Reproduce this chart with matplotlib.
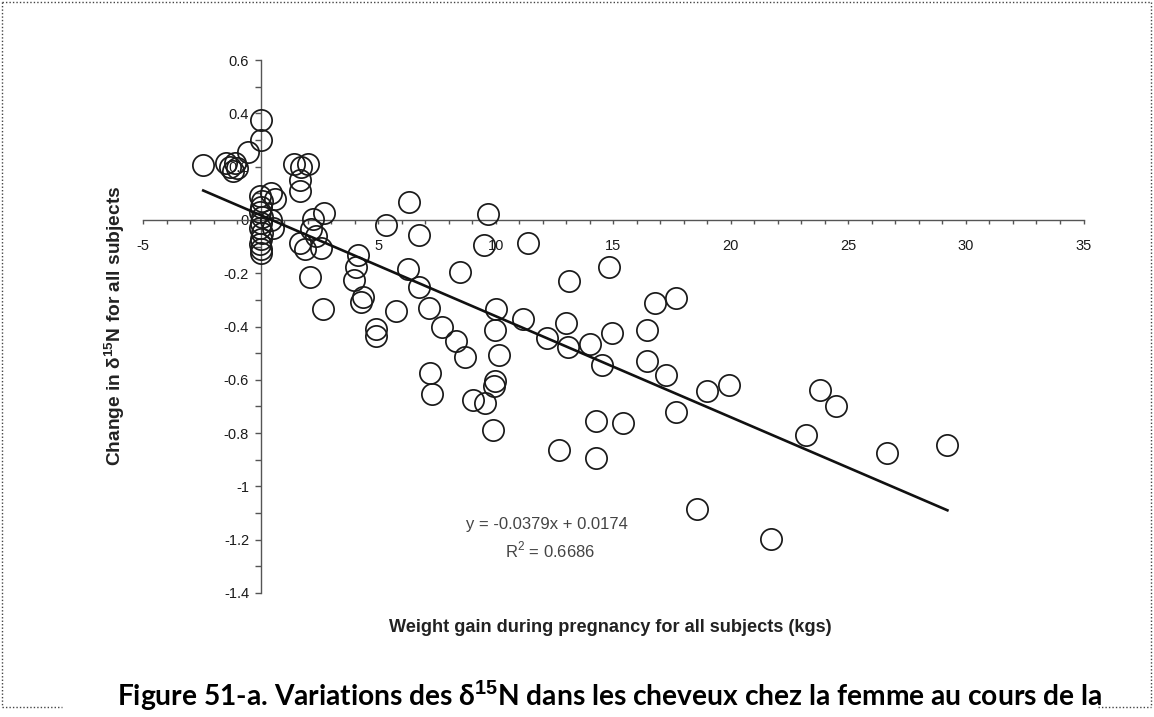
import matplotlib
matplotlib.use("Agg")
import matplotlib.pyplot as plt
from matplotlib.lines import Line2D
import numpy as np

# ---------------- data ----------------
weight_gain = [
    -2.45, -1.50, -1.30, -1.10, -1.20, -1.00, -0.55, 0.00, 0.00,
    -0.05, 0.05, 0.00, -0.05, 0.05, 0.00, -0.05, 0.05, 0.00, -0.05, 0.00, 0.00,
    0.45, 0.60, 0.45, 0.50,
    1.40, 2.00, 1.70, 1.65, 1.65,
    2.20, 2.70, 2.15, 1.65, 1.90, 2.55, 2.35,
    2.10, 2.63,
    4.14, 4.04, 3.96, 4.36, 4.28, 4.90, 4.92, 5.32,
    5.74, 6.31, 6.74, 6.27, 6.74, 7.16, 7.70, 7.19, 7.30,
    8.30, 8.68, 8.47, 9.67, 9.50, 10.00, 9.96, 10.14, 9.96, 9.92, 9.01, 9.53, 9.89,
    11.37, 11.17, 12.16, 13.00, 13.08, 13.10, 14.00, 14.80, 14.96, 14.50, 14.26, 15.39, 12.69, 14.26,
    16.41, 16.77, 17.66, 16.41, 17.23, 17.66, 19.00, 19.90, 18.57,
    21.70, 23.21, 23.79, 24.47, 26.64, 29.21,
]
delta15n_change = [
    0.205, 0.215, 0.200, 0.215, 0.185, 0.195, 0.255, 0.300, 0.375,
    0.09, 0.07, 0.05, 0.03, 0.01, -0.01, -0.03, -0.05, -0.07, -0.09, -0.11, -0.125,
    0.10, 0.08, 0.00, -0.03,
    0.21, 0.21, 0.20, 0.15, 0.11,
    0.005, 0.025, -0.035, -0.085, -0.11, -0.105, -0.06,
    -0.215, -0.335,
    -0.132, -0.176, -0.226, -0.289, -0.308, -0.410, -0.435, -0.020,
    -0.340, 0.066, -0.055, -0.185, -0.251, -0.330, -0.400, -0.573, -0.652,
    -0.455, -0.514, -0.197, 0.024, -0.095, -0.333, -0.414, -0.506, -0.605, -0.625, -0.674, -0.686, -0.790,
    -0.086, -0.370, -0.443, -0.385, -0.477, -0.230, -0.464, -0.176, -0.423, -0.546, -0.753, -0.761, -0.862, -0.894,
    -0.414, -0.310, -0.293, -0.531, -0.581, -0.721, -0.643, -0.618, -1.084,
    -1.196, -0.807, -0.638, -0.698, -0.874, -0.846,
]
fit_slope = -0.0379
fit_intercept = 0.0174
r_squared = "0.6686"

x_ticks = [-5, 5, 10, 15, 20, 25, 30, 35]
x_tick_labels = ["-5", "5", "10", "15", "20", "25", "30", "35"]
y_ticks = [0.6, 0.4, 0.2, 0.0, -0.2, -0.4, -0.6, -0.8, -1.0, -1.2, -1.4]
y_tick_labels = ["0.6", "0.4", "0.2", "0", "-0.2", "-0.4", "-0.6", "-0.8", "-1", "-1.2", "-1.4"]

x_label = "Weight gain during pregnancy for all subjects (kgs)"
y_label = r"Change in δ$^{\mathbf{15}}$N for all subjects"
caption = r"Figure 51-a. Variations des δ$^{\mathbf{15}}$N dans les cheveux chez la femme au cours de la"

# ---------------- figure ----------------
plt.rcParams["font.family"] = ["Liberation Sans", "DejaVu Sans"]
plt.rcParams["mathtext.fontset"] = "custom"
plt.rcParams["mathtext.rm"] = "Liberation Sans"
plt.rcParams["mathtext.bf"] = "Liberation Sans:bold"

W, H = 1154, 717
fig = plt.figure(figsize=(W / 100, H / 100), dpi=100)
fig.patch.set_facecolor("white")

# axes: x -5..35 -> px 143..1083.5 ; y 0.6..-1.4 -> px 60..593
ax = fig.add_axes([143.3 / W, 1 - 593 / H, (1083.5 - 143.3) / W, (593 - 60) / H])
ax.set_xlim(-5, 35)
ax.set_ylim(-1.4, 0.6)
ax.set_facecolor("none")

for s in ["top", "right"]:
    ax.spines[s].set_visible(False)
ax.spines["left"].set_position(("data", 0))
ax.spines["bottom"].set_position(("data", 0))
for s in ["left", "bottom"]:
    ax.spines[s].set_color("#555555")
    ax.spines[s].set_linewidth(1.0)

ax.set_xticks(x_ticks)
ax.set_xticklabels(x_tick_labels)
ax.set_xticks(np.arange(-5, 36, 1), minor=True)
ax.set_yticks(y_ticks)
ax.set_yticklabels(y_tick_labels)
ax.set_yticks(np.arange(-1.4, 0.61, 0.1), minor=True)

ax.tick_params(axis="x", which="both", direction="out", length=3, width=1.0,
               color="#555555", pad=11, labelsize=10.5, labelcolor="#1a1a1a")
ax.tick_params(axis="y", which="both", direction="out", length=4.5, width=1.0,
               color="#555555", pad=4, labelsize=10.5, labelcolor="#1a1a1a")

# data points
ax.plot(weight_gain, delta15n_change, linestyle="none", marker="o",
        markersize=15.3, markerfacecolor="none", markeredgecolor="#1a1a1a",
        markeredgewidth=1.25, zorder=3, clip_on=False)

# regression line over the data range
xs = np.array([min(weight_gain), max(weight_gain)])
ax.plot(xs, fit_slope * xs + fit_intercept, color="#111111", linewidth=1.9, zorder=4)

renderer = fig.canvas.get_renderer()


def fit_width(txt, target_px, horizontal=True):
    bb = txt.get_window_extent(renderer)
    cur = bb.width if horizontal else bb.height
    txt.set_fontsize(txt.get_fontsize() * target_px / cur)


# equation
eq1 = fig.text(547 / W, 1 - 525 / H, f"y = {fit_slope}x + {fit_intercept}",
               ha="center", va="center", fontsize=11, color="#444444")
fit_width(eq1, 161)
eq2 = fig.text(550 / W, 1 - 550 / H, r"R$^{2}$ = " + r_squared,
               ha="center", va="center", fontsize=eq1.get_fontsize(), color="#444444")

xl = fig.text(610 / W, 1 - 627 / H, x_label, ha="center", va="center",
              fontsize=11, fontweight="bold", color="#222222")
fit_width(xl, 445)

yl = fig.text(115 / W, 1 - 326 / H, y_label, ha="center", va="center",
              rotation=90, fontsize=11, fontweight="bold", color="#222222")
fit_width(yl, 280, horizontal=False)

cap = fig.text(610 / W, 1 - 705 / H, caption, ha="center", va="baseline",
               fontsize=20, fontweight="bold", color="black",
               family=["Lato", "DejaVu Sans"])
fit_width(cap, 986)

# dotted frame
def fline(xp, yp):
    fig.add_artist(Line2D([p / W for p in xp], [1 - p / H for p in yp],
                          transform=fig.transFigure, color="#444444",
                          linewidth=1.0, linestyle=(0, (1, 1.5))))

fline([2, 1151], [2, 2])
fline([2, 2], [2, 707])
fline([1151, 1151], [2, 707])
fline([2, 62], [707, 707])
fline([1098, 1151], [707, 707])

fig.savefig("out.png", dpi=100)
